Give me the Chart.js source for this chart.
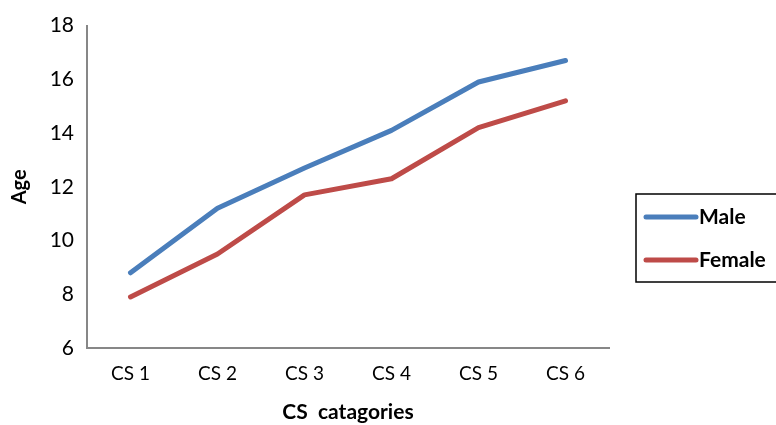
<!DOCTYPE html>
<html>
<head>
<meta charset="utf-8">
<script src="https://cdn.jsdelivr.net/npm/chart.js@4"></script>
<style>
  html, body { margin: 0; padding: 0; background: #fff; }
  #wrap { width: 776px; height: 425px; }
</style>
</head>
<body>
<div id="wrap"><canvas id="c" width="776" height="425"></canvas></div>
<script>
// Age by CS category, split by sex
const categories = ['CS 1', 'CS 2', 'CS 3', 'CS 4', 'CS 5', 'CS 6'];
const maleAge = [8.8, 11.2, 12.7, 14.1, 15.9, 16.7];
const femaleAge = [7.9, 9.5, 11.7, 12.3, 14.2, 15.2];
const seriesNames = ['Male', 'Female'];
const seriesColors = ['#4a7ebb', '#be4b48'];

const FONT = 'Lato, "Open Sans", sans-serif';

// Boxed legend on the right, drawn from the dataset labels and colours
const boxLegend = {
  id: 'boxLegend',
  afterDraw(chart) {
    const ctx = chart.ctx;
    const x0 = 636, y0 = 194, w = 150, h = 88;
    ctx.save();
    ctx.strokeStyle = '#000';
    ctx.lineWidth = 1.5;
    ctx.strokeRect(x0, y0, w, h);
    ctx.font = 'bold 21px ' + FONT;
    ctx.textBaseline = 'middle';
    ctx.fillStyle = '#000';
    chart.data.datasets.forEach((ds, i) => {
      const y = y0 + 23 + i * 43;
      ctx.strokeStyle = ds.borderColor;
      ctx.lineWidth = 5;
      ctx.lineCap = 'round';
      ctx.beginPath();
      ctx.moveTo(646, y);
      ctx.lineTo(696, y);
      ctx.stroke();
      ctx.fillText(ds.label, 699, y);
    });
    ctx.restore();
  }
};

new Chart(document.getElementById('c'), {
  type: 'line',
  data: {
    labels: categories,
    datasets: [
      { label: seriesNames[0], data: maleAge, borderColor: seriesColors[0], backgroundColor: seriesColors[0] },
      { label: seriesNames[1], data: femaleAge, borderColor: seriesColors[1], backgroundColor: seriesColors[1] }
    ]
  },
  options: {
    responsive: false,
    animation: false,
    devicePixelRatio: 1,
    layout: { padding: { left: 0, top: 25, right: 167, bottom: 0 } },
    elements: {
      line: { borderWidth: 5, tension: 0, borderCapStyle: 'round', borderJoinStyle: 'round' },
      point: { radius: 0, hoverRadius: 0 }
    },
    plugins: {
      legend: { display: false },
      tooltip: { enabled: false }
    },
    scales: {
      x: {
        offset: true,
        grid: { drawOnChartArea: false, drawTicks: false, offset: true },
        border: { display: true, color: '#878787', width: 2 },
        ticks: { color: '#000', padding: 14, font: { family: FONT, size: 19 } },
        title: {
          display: true,
          text: 'CS  catagories',
          color: '#000',
          font: { family: FONT, size: 21, weight: 'bold' },
          padding: { top: 0, bottom: 0 }
        },
        afterFit(scale) { scale.height = 77; }
      },
      y: {
        min: 6,
        max: 18,
        ticks: { stepSize: 2, color: '#000', padding: 13, font: { family: FONT, size: 21 } },
        grid: { drawOnChartArea: false, drawTicks: false },
        border: { display: true, color: '#878787', width: 2 },
        title: {
          display: true,
          text: 'Age',
          color: '#000',
          font: { family: FONT, size: 20, weight: 'bold' },
          padding: { top: 8, bottom: 0 }
        },
        afterFit(scale) { scale.width = 87; }
      }
    }
  },
  plugins: [boxLegend]
});
</script>
</body>
</html>
